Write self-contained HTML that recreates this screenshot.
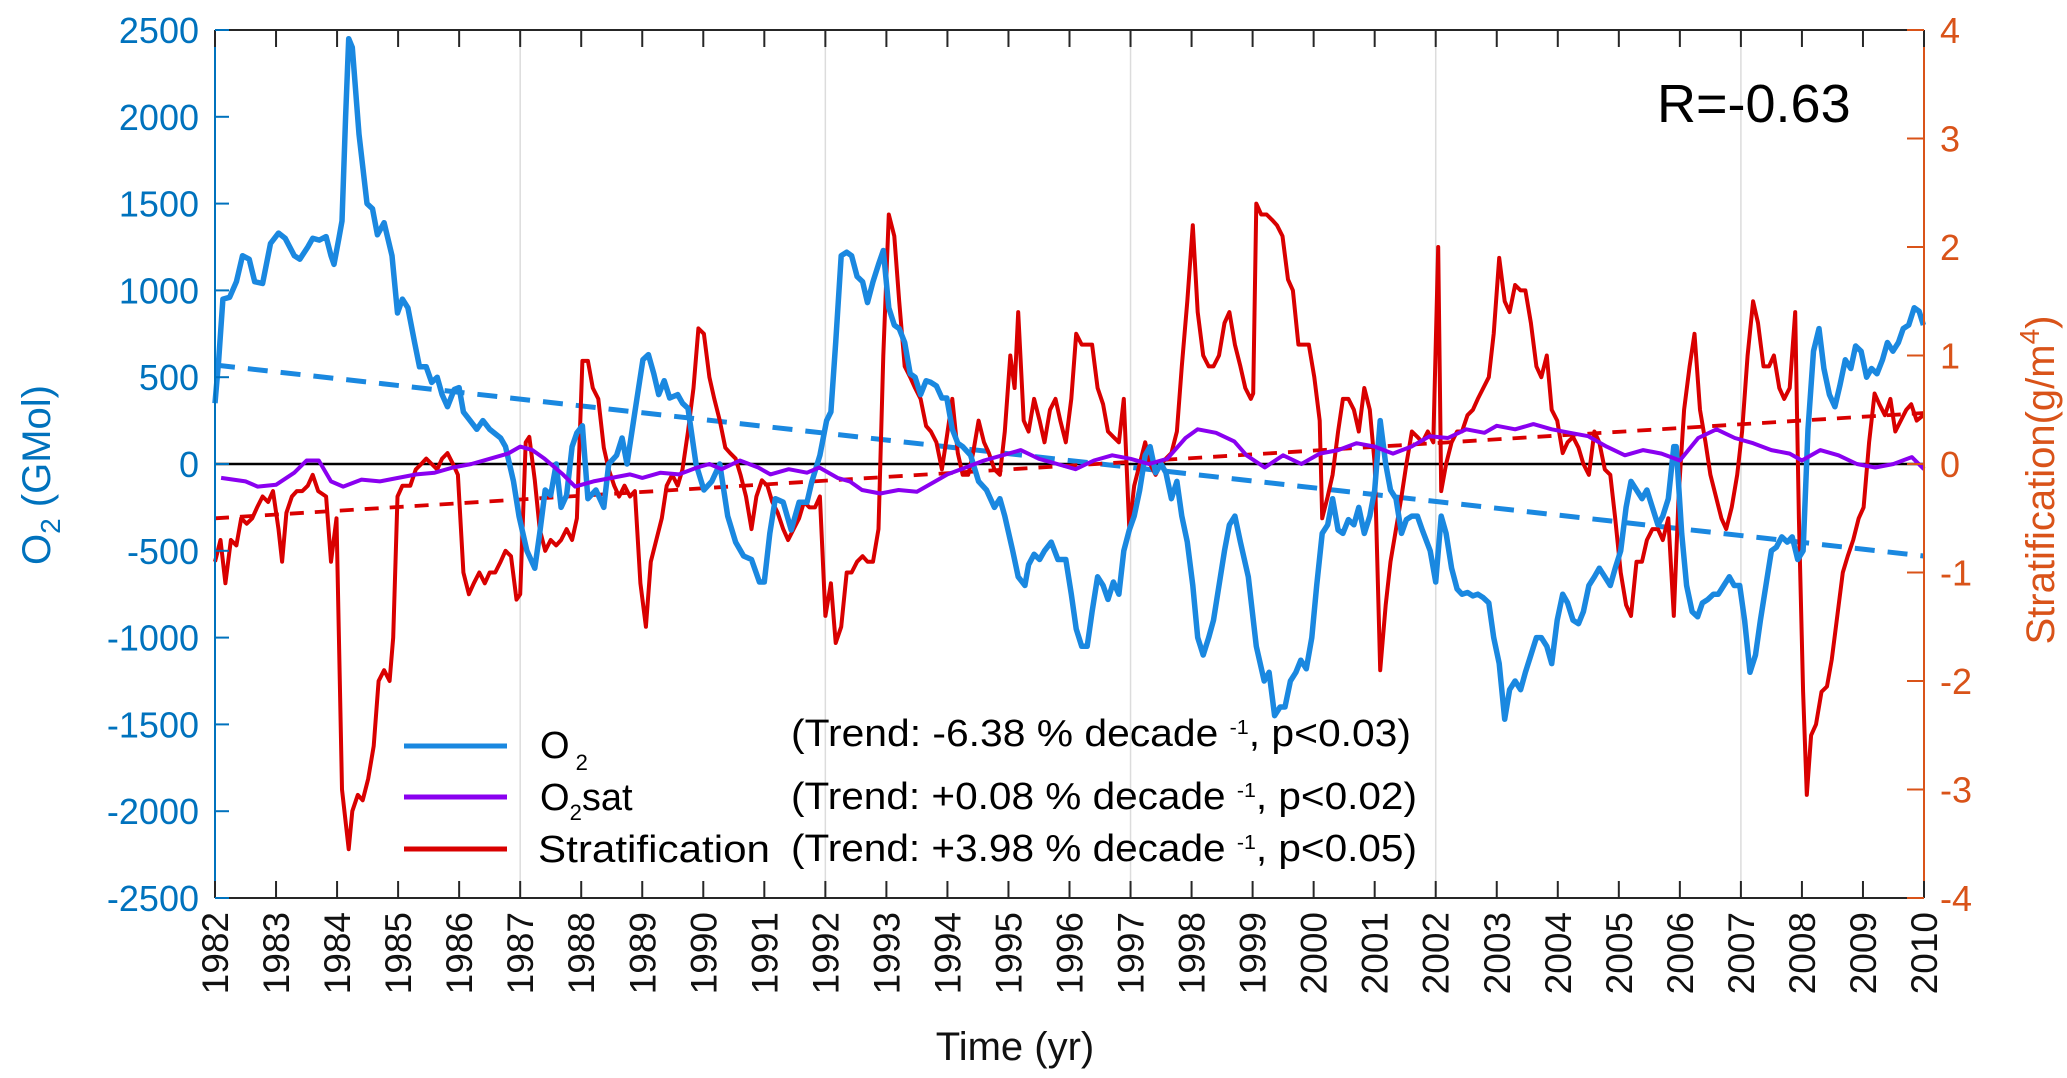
<!DOCTYPE html>
<html><head><meta charset="utf-8"><style>
html,body{margin:0;padding:0;background:#fff}
svg{display:block}
text{font-family:"Liberation Sans",Arial,sans-serif}
</style></head><body>
<svg id="chart" width="2067" height="1078" viewBox="0 0 2067 1078" xmlns="http://www.w3.org/2000/svg" style="position:absolute;left:0;top:0"></svg>
<script>
const o2Years=[1982.00,1982.06,1982.13,1982.24,1982.35,1982.45,1982.56,1982.65,1982.78,1982.91,1983.04,1983.15,1983.30,1983.39,1983.52,1983.60,1983.71,1983.82,1983.90,1983.95,1984.03,1984.08,1984.14,1984.19,1984.25,1984.36,1984.49,1984.58,1984.66,1984.77,1984.90,1984.99,1985.07,1985.16,1985.27,1985.35,1985.46,1985.55,1985.64,1985.72,1985.81,1985.92,1986.00,1986.07,1986.18,1986.29,1986.39,1986.50,1986.68,1986.76,1986.89,1986.98,1987.11,1987.24,1987.32,1987.41,1987.50,1987.59,1987.67,1987.76,1987.85,1987.93,1988.02,1988.11,1988.24,1988.37,1988.45,1988.58,1988.67,1988.75,1988.88,1989.01,1989.10,1989.19,1989.27,1989.36,1989.45,1989.58,1989.66,1989.75,1989.88,1990.01,1990.14,1990.27,1990.40,1990.53,1990.66,1990.79,1990.92,1991.00,1991.09,1991.18,1991.31,1991.44,1991.57,1991.70,1991.78,1991.91,1992.02,1992.09,1992.17,1992.26,1992.35,1992.43,1992.52,1992.61,1992.69,1992.78,1992.87,1992.95,1993.04,1993.13,1993.21,1993.30,1993.39,1993.47,1993.56,1993.65,1993.73,1993.82,1993.91,1993.99,1994.08,1994.17,1994.25,1994.38,1994.51,1994.64,1994.77,1994.86,1994.94,1995.07,1995.16,1995.27,1995.33,1995.42,1995.51,1995.59,1995.70,1995.81,1995.94,1996.03,1996.11,1996.20,1996.29,1996.37,1996.46,1996.55,1996.63,1996.72,1996.81,1996.89,1996.98,1997.06,1997.15,1997.24,1997.32,1997.41,1997.50,1997.58,1997.67,1997.76,1997.84,1997.93,1998.02,1998.10,1998.19,1998.28,1998.36,1998.45,1998.54,1998.62,1998.71,1998.80,1998.93,1999.06,1999.19,1999.27,1999.36,1999.45,1999.53,1999.62,1999.71,1999.79,1999.88,1999.97,2000.05,2000.14,2000.23,2000.31,2000.40,2000.48,2000.57,2000.66,2000.74,2000.83,2000.92,2001.00,2001.09,2001.18,2001.26,2001.35,2001.44,2001.52,2001.61,2001.70,2001.78,2001.91,2002.00,2002.09,2002.17,2002.26,2002.35,2002.43,2002.52,2002.61,2002.69,2002.78,2002.87,2002.95,2003.04,2003.13,2003.21,2003.30,2003.39,2003.47,2003.56,2003.65,2003.73,2003.82,2003.90,2003.99,2004.08,2004.16,2004.25,2004.34,2004.42,2004.51,2004.60,2004.68,2004.77,2004.86,2004.94,2005.03,2005.12,2005.20,2005.29,2005.38,2005.46,2005.55,2005.64,2005.72,2005.81,2005.90,2005.94,2006.03,2006.11,2006.20,2006.29,2006.37,2006.46,2006.55,2006.63,2006.72,2006.81,2006.89,2006.98,2007.06,2007.15,2007.24,2007.32,2007.41,2007.50,2007.58,2007.67,2007.76,2007.84,2007.93,2008.02,2008.10,2008.19,2008.28,2008.36,2008.45,2008.54,2008.62,2008.71,2008.80,2008.88,2008.97,2009.06,2009.14,2009.23,2009.32,2009.40,2009.49,2009.58,2009.66,2009.75,2009.84,2009.92,2009.99];
const o2Values=[350,600,950,960,1050,1200,1180,1050,1040,1270,1330,1300,1200,1180,1250,1300,1290,1310,1200,1150,1300,1400,2000,2450,2400,1900,1500,1470,1320,1390,1200,870,950,900,700,560,560,470,500,400,330,430,440,300,250,200,250,200,150,100,-100,-300,-500,-600,-400,-150,-180,0,-250,-180,100,180,220,-200,-150,-250,0,50,150,0,300,600,630,520,400,480,380,400,350,320,0,-150,-100,0,-300,-450,-530,-550,-680,-680,-400,-200,-220,-380,-220,-220,-100,50,250,300,700,1200,1220,1200,1080,1050,930,1050,1150,1230,900,800,780,700,520,500,400,480,470,450,380,380,200,120,100,50,-100,-150,-250,-200,-300,-500,-650,-700,-580,-520,-550,-500,-450,-550,-550,-750,-950,-1050,-1050,-850,-650,-700,-780,-680,-750,-500,-380,-300,-150,50,100,-50,0,-50,-200,-100,-300,-450,-700,-1000,-1100,-1000,-900,-700,-500,-350,-300,-450,-650,-1050,-1250,-1200,-1450,-1400,-1400,-1250,-1200,-1130,-1180,-1000,-700,-400,-350,-200,-380,-400,-320,-350,-250,-400,-300,-150,250,0,-150,-200,-400,-320,-300,-300,-380,-500,-680,-300,-400,-600,-720,-750,-740,-760,-750,-770,-800,-1000,-1150,-1470,-1300,-1250,-1300,-1200,-1100,-1000,-1000,-1050,-1150,-900,-750,-800,-900,-920,-850,-700,-650,-600,-650,-700,-600,-500,-250,-100,-150,-200,-150,-250,-350,-300,-200,100,100,-400,-700,-850,-880,-800,-780,-750,-750,-700,-650,-700,-700,-900,-1200,-1100,-900,-700,-500,-480,-420,-450,-420,-550,-500,200,650,780,550,400,330,450,600,550,680,650,500,550,520,600,700,650,700,780,800,900,880,800];
const satYears=[1982.1,1982.5,1982.7,1983.0,1983.3,1983.5,1983.7,1983.9,1984.1,1984.4,1984.7,1985.0,1985.3,1985.6,1985.9,1986.2,1986.5,1986.8,1987.0,1987.2,1987.4,1987.7,1987.9,1988.2,1988.5,1988.8,1989.0,1989.3,1989.6,1989.9,1990.1,1990.3,1990.6,1990.9,1991.1,1991.4,1991.7,1991.9,1992.2,1992.4,1992.6,1992.9,1993.2,1993.5,1993.8,1994.0,1994.3,1994.6,1994.9,1995.2,1995.5,1995.8,1996.1,1996.4,1996.7,1997.0,1997.3,1997.6,1997.9,1998.1,1998.4,1998.7,1998.9,1999.2,1999.5,1999.8,2000.1,2000.4,2000.7,2001.0,2001.3,2001.6,2001.9,2002.2,2002.5,2002.8,2003.0,2003.3,2003.6,2003.9,2004.2,2004.5,2004.8,2005.1,2005.4,2005.7,2006.0,2006.3,2006.6,2006.9,2007.2,2007.5,2007.8,2008.0,2008.3,2008.6,2008.9,2009.2,2009.5,2009.8,2010.0];
const satValues=[-80,-100,-130,-120,-50,20,20,-100,-130,-90,-100,-80,-60,-50,-20,0,30,60,100,80,30,-60,-130,-100,-80,-60,-80,-50,-60,-20,0,-30,20,-20,-60,-30,-50,-20,-80,-100,-150,-170,-150,-160,-100,-60,-20,20,50,80,30,0,-30,20,50,30,0,30,150,200,180,130,50,-20,50,0,60,80,120,100,60,100,160,150,200,180,220,200,230,200,180,160,100,50,80,60,20,150,200,150,120,80,60,20,80,50,0,-20,0,40,-30];
const stratYears=[1982.00,1982.09,1982.17,1982.26,1982.35,1982.43,1982.52,1982.61,1982.69,1982.78,1982.87,1982.95,1983.04,1983.10,1983.17,1983.26,1983.34,1983.43,1983.52,1983.60,1983.69,1983.82,1983.90,1983.99,1984.08,1984.19,1984.25,1984.34,1984.42,1984.51,1984.60,1984.68,1984.77,1984.86,1984.92,1984.99,1985.07,1985.20,1985.29,1985.38,1985.46,1985.55,1985.64,1985.72,1985.81,1985.90,1985.98,1986.07,1986.16,1986.24,1986.33,1986.42,1986.50,1986.59,1986.68,1986.76,1986.85,1986.94,1987.00,1987.09,1987.15,1987.24,1987.32,1987.41,1987.50,1987.59,1987.67,1987.76,1987.85,1987.93,1988.02,1988.11,1988.19,1988.28,1988.37,1988.45,1988.54,1988.62,1988.71,1988.80,1988.88,1988.97,1989.06,1989.14,1989.23,1989.32,1989.40,1989.49,1989.58,1989.66,1989.75,1989.84,1989.92,1990.01,1990.10,1990.18,1990.27,1990.36,1990.44,1990.53,1990.61,1990.70,1990.79,1990.87,1990.96,1991.05,1991.13,1991.22,1991.31,1991.39,1991.48,1991.57,1991.65,1991.74,1991.83,1991.91,1992.00,1992.09,1992.17,1992.26,1992.35,1992.43,1992.52,1992.61,1992.69,1992.78,1992.87,1992.95,1993.04,1993.13,1993.21,1993.30,1993.39,1993.47,1993.56,1993.65,1993.73,1993.82,1993.91,1993.99,1994.08,1994.17,1994.25,1994.34,1994.42,1994.51,1994.60,1994.68,1994.77,1994.86,1994.94,1995.03,1995.10,1995.16,1995.25,1995.33,1995.42,1995.51,1995.59,1995.68,1995.77,1995.85,1995.94,1996.03,1996.11,1996.20,1996.29,1996.37,1996.46,1996.55,1996.63,1996.72,1996.81,1996.89,1996.98,1997.06,1997.15,1997.24,1997.32,1997.41,1997.50,1997.58,1997.67,1997.76,1997.84,1997.93,1998.02,1998.10,1998.19,1998.28,1998.36,1998.45,1998.54,1998.62,1998.71,1998.80,1998.88,1998.97,1999.01,1999.06,1999.14,1999.23,1999.32,1999.40,1999.49,1999.58,1999.66,1999.75,1999.84,1999.92,2000.01,2000.10,2000.14,2000.23,2000.31,2000.40,2000.48,2000.57,2000.66,2000.74,2000.83,2000.92,2001.00,2001.09,2001.18,2001.26,2001.35,2001.44,2001.52,2001.61,2001.70,2001.78,2001.87,2001.96,2002.04,2002.09,2002.17,2002.26,2002.35,2002.43,2002.52,2002.61,2002.69,2002.78,2002.87,2002.95,2003.04,2003.13,2003.21,2003.30,2003.39,2003.47,2003.56,2003.65,2003.73,2003.82,2003.90,2003.99,2004.08,2004.16,2004.25,2004.34,2004.42,2004.51,2004.60,2004.68,2004.77,2004.86,2004.94,2005.03,2005.12,2005.20,2005.29,2005.38,2005.46,2005.55,2005.64,2005.72,2005.81,2005.90,2005.98,2006.07,2006.16,2006.24,2006.33,2006.42,2006.50,2006.59,2006.68,2006.76,2006.85,2006.94,2007.02,2007.11,2007.20,2007.28,2007.37,2007.46,2007.54,2007.63,2007.71,2007.80,2007.89,2007.95,2008.02,2008.08,2008.15,2008.23,2008.32,2008.41,2008.49,2008.58,2008.67,2008.75,2008.84,2008.93,2009.01,2009.10,2009.19,2009.27,2009.36,2009.45,2009.53,2009.62,2009.71,2009.79,2009.88,2009.99];
const stratValues=[-0.9,-0.7,-1.1,-0.7,-0.75,-0.5,-0.55,-0.5,-0.4,-0.3,-0.35,-0.25,-0.6,-0.9,-0.45,-0.3,-0.25,-0.25,-0.2,-0.1,-0.25,-0.3,-0.9,-0.5,-3.0,-3.55,-3.2,-3.05,-3.1,-2.9,-2.6,-2.0,-1.9,-2.0,-1.6,-0.3,-0.2,-0.2,-0.05,0,0.05,0,-0.05,0.05,0.1,0,-0.1,-1.0,-1.2,-1.1,-1.0,-1.1,-1.0,-1.0,-0.9,-0.8,-0.85,-1.25,-1.2,0.2,0.25,-0.15,-0.6,-0.8,-0.7,-0.75,-0.7,-0.6,-0.7,-0.5,0.95,0.95,0.7,0.6,0.15,-0.05,-0.2,-0.3,-0.2,-0.3,-0.25,-1.1,-1.5,-0.9,-0.7,-0.5,-0.2,-0.1,-0.2,-0.05,0.3,0.7,1.25,1.2,0.8,0.6,0.4,0.15,0.1,0.05,-0.1,-0.3,-0.6,-0.3,-0.15,-0.2,-0.35,-0.45,-0.6,-0.7,-0.6,-0.5,-0.35,-0.4,-0.4,-0.3,-1.4,-1.1,-1.65,-1.5,-1.0,-1.0,-0.9,-0.85,-0.9,-0.9,-0.6,1.0,2.3,2.1,1.5,0.9,0.8,0.7,0.6,0.35,0.3,0.2,-0.05,0.25,0.6,0.1,-0.1,-0.1,0.1,0.4,0.2,0.1,-0.05,-0.1,0.3,1.0,0.7,1.4,0.4,0.3,0.6,0.4,0.2,0.5,0.6,0.4,0.2,0.6,1.2,1.1,1.1,1.1,0.7,0.55,0.3,0.25,0.2,0.6,-0.6,-0.2,0.0,0.2,0.0,-0.1,0.0,0.05,0.1,0.3,0.9,1.5,2.2,1.4,1.0,0.9,0.9,1.0,1.3,1.4,1.1,0.9,0.7,0.6,0.65,2.4,2.3,2.3,2.25,2.2,2.1,1.7,1.6,1.1,1.1,1.1,0.8,0.4,-0.5,-0.3,-0.1,0.3,0.6,0.6,0.5,0.3,0.7,0.5,0.0,-1.9,-1.3,-0.9,-0.6,-0.3,0.0,0.3,0.25,0.2,0.3,0.2,2.0,-0.25,0.0,0.2,0.3,0.3,0.45,0.5,0.6,0.7,0.8,1.2,1.9,1.5,1.4,1.65,1.6,1.6,1.3,0.9,0.8,1.0,0.5,0.4,0.1,0.2,0.25,0.15,0.0,-0.1,0.3,0.2,-0.05,-0.1,-0.5,-1.0,-1.3,-1.4,-0.9,-0.9,-0.7,-0.6,-0.6,-0.7,-0.5,-1.4,-0.3,0.5,0.9,1.2,0.5,0.2,-0.1,-0.3,-0.5,-0.6,-0.4,-0.1,0.3,1.0,1.5,1.3,0.9,0.9,1.0,0.7,0.6,0.7,1.4,-0.5,-2.1,-3.05,-2.5,-2.4,-2.1,-2.05,-1.8,-1.4,-1.0,-0.85,-0.7,-0.5,-0.4,0.2,0.65,0.55,0.45,0.6,0.3,0.4,0.5,0.55,0.4,0.45];
const o2TrendEnds=[570,-530];
const stratTrendEnds=[-0.5,0.47];
const yearTicks=[1982,1983,1984,1985,1986,1987,1988,1989,1990,1991,1992,1993,1994,1995,1996,1997,1998,1999,2000,2001,2002,2003,2004,2005,2006,2007,2008,2009,2010];
const gridYears=[1987,1992,1997,2002,2007];
const leftTicks=[-2500,-2000,-1500,-1000,-500,0,500,1000,1500,2000,2500];
const rightTicks=[-4,-3,-2,-1,0,1,2,3,4];

const L=215,R=1924,T=30,B=898;
const NS='http://www.w3.org/2000/svg';
const svg=document.getElementById('chart');
const xs=y=>L+(y-1982)/(2010-1982)*(R-L);
const yl=v=>T+(2500-v)/5000*(B-T);
const yr=v=>T+(4-v)/8*(B-T);
function mk(tag,at,parent){const e=document.createElementNS(NS,tag);for(const k in at)e.setAttribute(k,at[k]);(parent||svg).appendChild(e);return e;}
function txt(s,at,parent){const e=mk('text',at,parent);e.textContent=s;return e;}

gridYears.forEach(g=>{const e=mk('line',{x1:xs(g),x2:xs(g),y1:T,y2:B,stroke:'#dcdcdc','stroke-width':1.5});

});
const z=mk('line',{x1:L,x2:R,y1:yl(0),y2:yl(0),stroke:'#000','stroke-width':2.5});



function path(xsA,ysA,fx,fy,stroke,w,dash,name){
  let d='';xsA.forEach((x,i)=>{d+=(i?'L':'M')+fx(x).toFixed(1)+','+fy(ysA[i]).toFixed(1);});
  const at={d:d,fill:'none',stroke:stroke,'stroke-width':w,'stroke-linejoin':'round'};
  if(dash)at['stroke-dasharray']=dash;
  const p=mk('path',at);
  
  
  return p;
}
path([1982,2010],o2TrendEnds,xs,yl,'#1a88e0',5,'20,13','o2-trend-line');
path([1982,2010],stratTrendEnds,xs,yr,'#d90000',3.8,'14,11','stratification-trend-line');
path(stratYears,stratValues,xs,yr,'#d90000',4,null,'stratification-series');
path(o2Years,o2Values,xs,yl,'#1a88e0',5.5,null,'o2-series');
path(satYears,satValues,xs,yl,'#8a00f0',4,null,'o2sat-series');

const ax=mk('g',{});


mk('line',{x1:L,x2:R,y1:T,y2:T,stroke:'#262626','stroke-width':2},ax);
mk('line',{x1:L,x2:R,y1:B,y2:B,stroke:'#262626','stroke-width':2},ax);
mk('line',{x1:L,x2:L,y1:T,y2:B,stroke:'#0072BD','stroke-width':2},ax);
mk('line',{x1:R,x2:R,y1:T,y2:B,stroke:'#D95319','stroke-width':2},ax);
yearTicks.forEach(y=>{
  mk('line',{x1:xs(y),x2:xs(y),y1:T,y2:T+17,stroke:'#262626','stroke-width':2},ax);
  mk('line',{x1:xs(y),x2:xs(y),y1:B,y2:B-17,stroke:'#262626','stroke-width':2},ax);
  const t=txt(String(y),{x:0,y:0,'font-size':37,fill:'#111','text-anchor':'end',transform:`translate(${xs(y)+13},${B+14}) rotate(-90)`});
  
  
});
leftTicks.forEach(v=>{
  mk('line',{x1:L,x2:L+14,y1:yl(v),y2:yl(v),stroke:'#0072BD','stroke-width':2},ax);
  const t=txt(String(v),{x:L-16,y:yl(v)+13,'font-size':36,fill:'#0072BD','text-anchor':'end'});
  
  
});
rightTicks.forEach(v=>{
  mk('line',{x1:R-17,x2:R,y1:yr(v),y2:yr(v),stroke:'#D95319','stroke-width':2},ax);
  const t=txt(String(v),{x:R+16,y:yr(v)+13,'font-size':36,fill:'#D95319','text-anchor':'start'});
  
  
});
</script>
<svg width="2067" height="1078" viewBox="0 0 2067 1078" xmlns="http://www.w3.org/2000/svg" style="position:absolute;left:0;top:0">
<text x="1015" y="1060" font-size="40" text-anchor="middle" fill="#111" font-family="Liberation Sans, sans-serif">Time (yr)</text>
<text transform="translate(50,475) rotate(-90)" font-size="40" text-anchor="middle" fill="#0072BD" font-family="Liberation Sans, sans-serif">O<tspan font-size="28" dy="10">2</tspan><tspan dy="-10"> (GMol)</tspan></text>
<text transform="translate(2054,480) rotate(-90)" font-size="40" text-anchor="middle" fill="#D95319" font-family="Liberation Sans, sans-serif">Stratification(g/m<tspan font-size="28" dy="-15">4</tspan><tspan dy="15">)</tspan></text>
<text x="1657" y="122" font-size="54" fill="#000" font-family="DejaVu Sans, sans-serif">R=-0.63</text>
<g font-family="Liberation Sans, sans-serif" font-size="38" fill="#000">
<line x1="404" x2="507" y1="746" y2="746" stroke="#1a88e0" stroke-width="5"/>
<line x1="404" x2="507" y1="797" y2="797" stroke="#8a00f0" stroke-width="5"/>
<line x1="404" x2="507" y1="849" y2="849" stroke="#d90000" stroke-width="5"/>
<text x="540" y="758">O<tspan font-size="22" dy="12"> 2</tspan></text>
<text x="540" y="810">O<tspan font-size="22" dy="10">2</tspan><tspan dy="-10">sat</tspan></text>
<text x="538" y="862" textLength="232" lengthAdjust="spacingAndGlyphs">Stratification</text>
<text x="791" y="746" textLength="620" lengthAdjust="spacingAndGlyphs">(Trend: -6.38 % decade <tspan font-size="20" dy="-12">-1</tspan><tspan dy="12">, p&lt;0.03)</tspan></text>
<text x="791" y="809" textLength="626" lengthAdjust="spacingAndGlyphs">(Trend: +0.08 % decade <tspan font-size="20" dy="-12">-1</tspan><tspan dy="12">, p&lt;0.02)</tspan></text>
<text x="791" y="861" textLength="626" lengthAdjust="spacingAndGlyphs">(Trend: +3.98 % decade <tspan font-size="20" dy="-12">-1</tspan><tspan dy="12">, p&lt;0.05)</tspan></text>
</g>
</svg>
</body></html>
